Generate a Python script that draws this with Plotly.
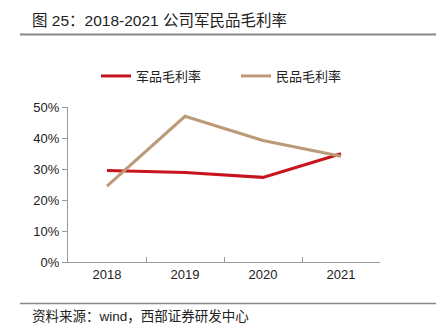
import plotly.graph_objects as go

years = ["2018", "2019", "2020", "2021"]
military = [0.295, 0.289, 0.273, 0.349]
civil = [0.245, 0.470, 0.392, 0.341]
y_ticks = [0, 0.1, 0.2, 0.3, 0.4, 0.5]
y_labels = ["0%", "10%", "20%", "30%", "40%", "50%"]

RED = "#C8141E"
TAN = "#BC9A78"
FONT = "Liberation Sans, Noto Sans CJK SC, Arial"

fig = go.Figure()
fig.add_trace(go.Scatter(x=years, y=military, mode="lines", name="军品毛利率",
                         line=dict(color=RED, width=3)))
fig.add_trace(go.Scatter(x=years, y=civil, mode="lines", name="民品毛利率",
                         line=dict(color=TAN, width=3)))

L, R, T, B = 68, 56, 107, 63
W, H = 436, 325
ph = H - T - B
pw = W - L - R

def py(pix):
    return (H - B - pix) / ph

def px(pix):
    return (pix - L) / pw

fig.update_layout(
    width=W, height=H,
    margin=dict(l=L, r=R, t=T, b=B),
    paper_bgcolor="white", plot_bgcolor="white",
    font=dict(family=FONT, size=13, color="#222"),
    showlegend=True,
    legend=dict(orientation="h", x=px(96), y=py(76), yanchor="middle", xanchor="left",
                font=dict(size=13, family="Noto Sans CJK SC", color="#222"),
                entrywidth=95, entrywidthmode="pixels",
                bgcolor="rgba(0,0,0,0)"),
    xaxis=dict(type="category", range=[-0.5, 3.5], showline=True, linecolor="#999",
               linewidth=1, ticks="inside", ticklen=5, tickcolor="#999",
               tickson="boundaries", showgrid=False, zeroline=False,
               tickfont=dict(size=13)),
    yaxis=dict(range=[0, 0.5], tickvals=y_ticks, ticktext=y_labels, showline=True,
               linecolor="#999", linewidth=1, ticks="outside", ticklen=5,
               tickcolor="#999", showgrid=False, zeroline=False,
               tickfont=dict(size=13)),
)

fig.add_annotation(text="图 25：2018-2021 公司军民品毛利率", xref="paper", yref="paper",
                   x=px(30), y=py(21), xanchor="left", yanchor="middle", showarrow=False,
                   font=dict(size=15.5, family=FONT, color="#222"))
fig.add_annotation(text="资料来源：wind，西部证券研发中心", xref="paper", yref="paper",
                   x=px(30), y=py(316), xanchor="left", yanchor="middle", showarrow=False,
                   font=dict(size=13.5, family=FONT, color="#222"))
fig.add_shape(type="line", xref="paper", yref="paper", x0=px(20), x1=px(436),
              y0=py(34.5), y1=py(34.5), line=dict(color="#888", width=2))
fig.add_shape(type="line", xref="paper", yref="paper", x0=px(20), x1=px(436),
              y0=py(303.5), y1=py(303.5), line=dict(color="#888", width=1.5))

fig.write_html("out.html")
